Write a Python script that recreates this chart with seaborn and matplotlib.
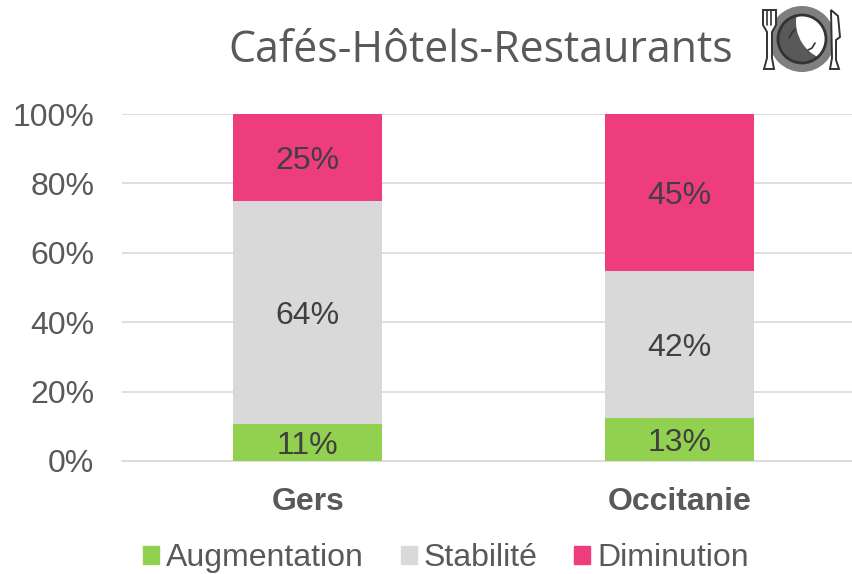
import matplotlib
matplotlib.use("Agg")
import matplotlib.pyplot as plt
import pandas as pd
import seaborn as sns
from matplotlib.patches import Circle, Patch, Polygon

sites = ["Gers", "Occitanie"]
series = ["Augmentation", "Stabilité", "Diminution"]
augmentation = [10.7, 12.4]
stabilite = [64.2, 42.4]
diminution = [25.1, 45.2]
labels_aug = ["11%", "13%"]
labels_sta = ["64%", "42%"]
labels_dim = ["25%", "45%"]
y_ticks = [0, 20, 40, 60, 80, 100]

GREEN = "#92D050"
GREY = "#D9D9D9"
PINK = "#EE3D7C"
TEXT = "#595959"

sns.set_theme(style="white")
plt.rcParams["font.family"] = ["Liberation Sans", "DejaVu Sans"]

W, H = 853, 574
fig = plt.figure(figsize=(W / 100, H / 100), dpi=100)
ax = fig.add_axes([122 / W, 1 - 461 / H, 743 / W, 347 / H])

df = pd.DataFrame({
    "site": sites,
    "Augmentation": augmentation,
    "Stabilité": stabilite,
    "Diminution": diminution,
})

bottoms = [0, 0]
rows = [(augmentation, GREEN, labels_aug), (stabilite, GREY, labels_sta), (diminution, PINK, labels_dim)]
for name, (vals, col, labs) in zip(series, rows):
    sns.barplot(data=df, x="site", y=name, color=col, width=0.4, bottom=bottoms,
                saturation=1, ax=ax, zorder=3, errorbar=None, linewidth=0)
    anns = ax.bar_label(ax.containers[-1], labels=labs, label_type="center", fontsize=23,
                        color="#404040", zorder=4)
    for a in anns:
        a.xyann = (0, -2.5)
    bottoms = [b + v for b, v in zip(bottoms, vals)]

ax.set_xlim(-0.5, 1.5)
ax.set_ylim(0, 100)
ax.set_yticks(y_ticks)
ax.set_yticklabels([f"{t}%" for t in y_ticks], fontsize=23, color=TEXT)
ax.set_xlabel("")
ax.set_ylabel("")
ax.tick_params(axis="y", length=0, pad=20)
ax.tick_params(axis="x", length=0, pad=19)
for lab in ax.get_xticklabels():
    lab.set_fontsize(23)
    lab.set_fontweight("bold")
    lab.set_color(TEXT)
ax.grid(axis="y", color=GREY, linewidth=1.2, zorder=0)
ax.set_axisbelow(True)
sns.despine(ax=ax, left=True, top=True, right=True)
ax.spines["bottom"].set_color(GREY)
ax.spines["bottom"].set_linewidth(1.2)

fig.text(481 / W, 1 - 51 / H, "Cafés-Hôtels-Restaurants", ha="center", va="center",
         fontsize=30.9, color=TEXT, family=["Open Sans", "DejaVu Sans"])

handles = [Patch(color=GREEN), Patch(color=GREY), Patch(color=PINK)]
fig.legend(handles, series, loc="center", bbox_to_anchor=(446 / W, 1 - 558 / H), ncol=3, frameon=False,
           fontsize=23, labelcolor=TEXT, handlelength=0.5, handleheight=0.5,
           handletextpad=0.22, columnspacing=1.15, borderpad=0, borderaxespad=0)

# plate and cutlery icon
icon = fig.add_axes([756 / W, 1 - 76 / H, 90 / W, 72 / H])
icon.set_xlim(756, 846)
icon.set_ylim(76, 4)
icon.axis("off")
DARK = "#333333"
icon.add_patch(Circle((802, 39), 33, color="#7F7F7F", lw=0))
inner = Circle((802, 39), 24, facecolor="#595959", edgecolor="none")
icon.add_patch(inner)
light = Circle((835, 22), 39, color="white", lw=0)
icon.add_patch(light)
light.set_clip_path(inner)
icon.add_patch(Circle((802, 39), 24, fill=False, edgecolor=DARK, lw=2))
icon.plot([789, 792, 795], [38, 33, 29], color="#333333", lw=1.2)
icon.plot([808, 812, 815], [50, 48, 43], color="#333333", lw=1.2)
icon.add_patch(Polygon([[763, 10], [763, 25], [767, 32], [767, 58], [764, 69], [774, 69], [772, 58], [772, 32],
                        [776, 25], [776, 10]], facecolor="white", edgecolor=DARK, lw=1.4))
icon.plot([767.5, 767.5], [10, 25], color=DARK, lw=1.2)
icon.plot([771.5, 771.5], [10, 25], color=DARK, lw=1.2)
icon.add_patch(Polygon([[831, 10], [838, 16], [840, 37], [836, 40], [836, 60], [839, 69], [830, 69], [832, 58]],
                       facecolor="white", edgecolor=DARK, lw=1.4))

fig.savefig("out.png", dpi=100)
